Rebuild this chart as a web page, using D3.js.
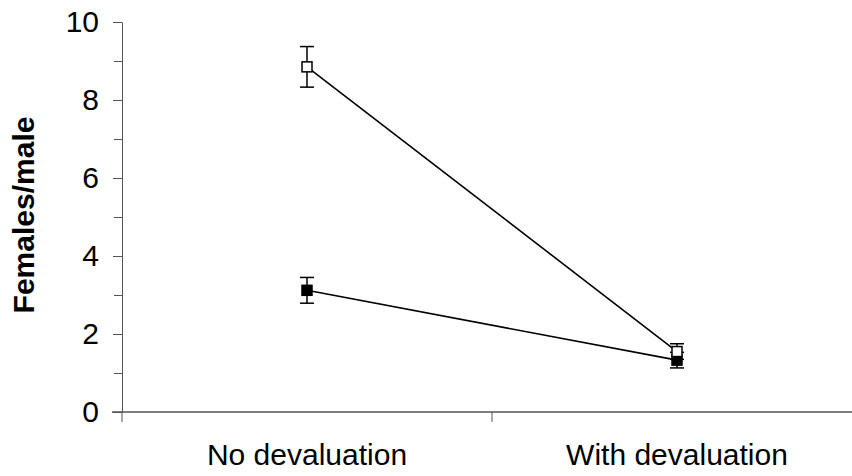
<!DOCTYPE html>
<html>
<head>
<meta charset="utf-8">
<script src="https://cdn.jsdelivr.net/npm/d3@7"></script>
<style>
  body { margin: 0; background: #fff; }
  svg { display: block; font-family: "Liberation Sans", Arial, sans-serif; }
</style>
</head>
<body>
<div id="chart"></div>
<script>
// chart data
var categories = ["No devaluation", "With devaluation"];
var openMeans = [8.85, 1.55];
var openErrors = [0.52, 0.2];
var filledMeans = [3.12, 1.33];
var filledErrors = [0.33, 0.2];
var majorTicks = [0, 2, 4, 6, 8, 10];
var minorTicks = [1, 3, 5, 7, 9];

var svgWidth = 852;
var svgHeight = 476;

var svg = d3.select("#chart")
    .append("svg")
    .attr("width", svgWidth)
    .attr("height", svgHeight);

// scales
var xScale = d3.scaleBand()
    .domain(categories)
    .range([122, 862])
    .padding(0);

var yScale = d3.scaleLinear()
    .domain([0, 10])
    .range([412, 22]);

var axisColor = "#555";

// y axis: major ticks with labels
var leftAxis = d3.axisLeft(yScale)
    .tickValues(majorTicks)
    .tickSize(9)
    .tickSizeOuter(0)
    .tickPadding(14)
    .tickFormat(d3.format("d"));

var yAxisG = svg.append("g")
    .attr("transform", "translate(122,0)")
    .call(leftAxis);

yAxisG.select(".domain").attr("stroke", axisColor);
yAxisG.selectAll(".tick line").attr("stroke", axisColor);
yAxisG.selectAll(".tick text")
    .attr("fill", "#000")
    .style("font-size", "30px")
    .style("font-family", "Liberation Sans, Arial, sans-serif");

// minor ticks
var minorAxis = d3.axisLeft(yScale)
    .tickValues(minorTicks)
    .tickSize(8)
    .tickSizeOuter(0)
    .tickFormat("");

var minorG = svg.append("g")
    .attr("transform", "translate(122,0)")
    .call(minorAxis);
minorG.select(".domain").remove();
minorG.selectAll(".tick line").attr("stroke", axisColor);

// x axis line + category boundary ticks
svg.append("line")
    .attr("x1", 112)
    .attr("x2", 862)
    .attr("y1", yScale(0))
    .attr("y2", yScale(0))
    .attr("stroke", axisColor)
    .attr("stroke-width", 1.5);

var boundaries = categories.map(function (c) { return xScale(c); })
    .concat([xScale(categories[categories.length - 1]) + xScale.bandwidth()]);

svg.selectAll(".xtick")
    .data(boundaries)
    .enter()
    .append("line")
    .attr("class", "xtick")
    .attr("x1", d => d)
    .attr("x2", d => d)
    .attr("y1", yScale(0))
    .attr("y2", yScale(0) + 10)
    .attr("stroke", axisColor);

// category labels
svg.selectAll(".xlabel")
    .data(categories)
    .enter()
    .append("text")
    .attr("class", "xlabel")
    .attr("x", d => xScale(d) + xScale.bandwidth() / 2)
    .attr("y", 465)
    .attr("text-anchor", "middle")
    .style("font-size", "30px")
    .text(d => d);

// y axis title
svg.append("text")
    .attr("transform", "translate(34, 215) rotate(-90)")
    .attr("text-anchor", "middle")
    .style("font-size", "30px")
    .style("font-weight", "bold")
    .text("Females/male");

var cx = function (i) { return xScale(categories[i]) + xScale.bandwidth() / 2; };

function drawSeries(means, errors, fill) {
    var pts = means.map(function (m, i) { return { x: cx(i), m: m, e: errors[i] }; });

    // connecting line
    svg.append("path")
        .datum(pts)
        .attr("fill", "none")
        .attr("stroke", "#000")
        .attr("stroke-width", 1.6)
        .attr("d", d3.line().x(d => d.x).y(d => yScale(d.m)));

    var g = svg.append("g");

    // error bars
    g.selectAll(".err")
        .data(pts)
        .enter()
        .append("line")
        .attr("x1", d => d.x)
        .attr("x2", d => d.x)
        .attr("y1", d => yScale(d.m + d.e))
        .attr("y2", d => yScale(d.m - d.e))
        .attr("stroke", "#000")
        .attr("stroke-width", 1.5);

    [1, -1].forEach(function (s) {
        g.selectAll(null)
            .data(pts)
            .enter()
            .append("line")
            .attr("x1", d => d.x - 7)
            .attr("x2", d => d.x + 7)
            .attr("y1", d => yScale(d.m + s * d.e))
            .attr("y2", d => yScale(d.m + s * d.e))
            .attr("stroke", "#000")
            .attr("stroke-width", 1.5);
    });

    // markers
    g.selectAll("rect")
        .data(pts)
        .enter()
        .append("rect")
        .attr("x", d => d.x - 5)
        .attr("y", d => yScale(d.m) - 5)
        .attr("width", 10)
        .attr("height", 10)
        .attr("fill", fill)
        .attr("stroke", "#000")
        .attr("stroke-width", 1.5);
}

drawSeries(filledMeans, filledErrors, "#000");
drawSeries(openMeans, openErrors, "#fff");
</script>
</body>
</html>
